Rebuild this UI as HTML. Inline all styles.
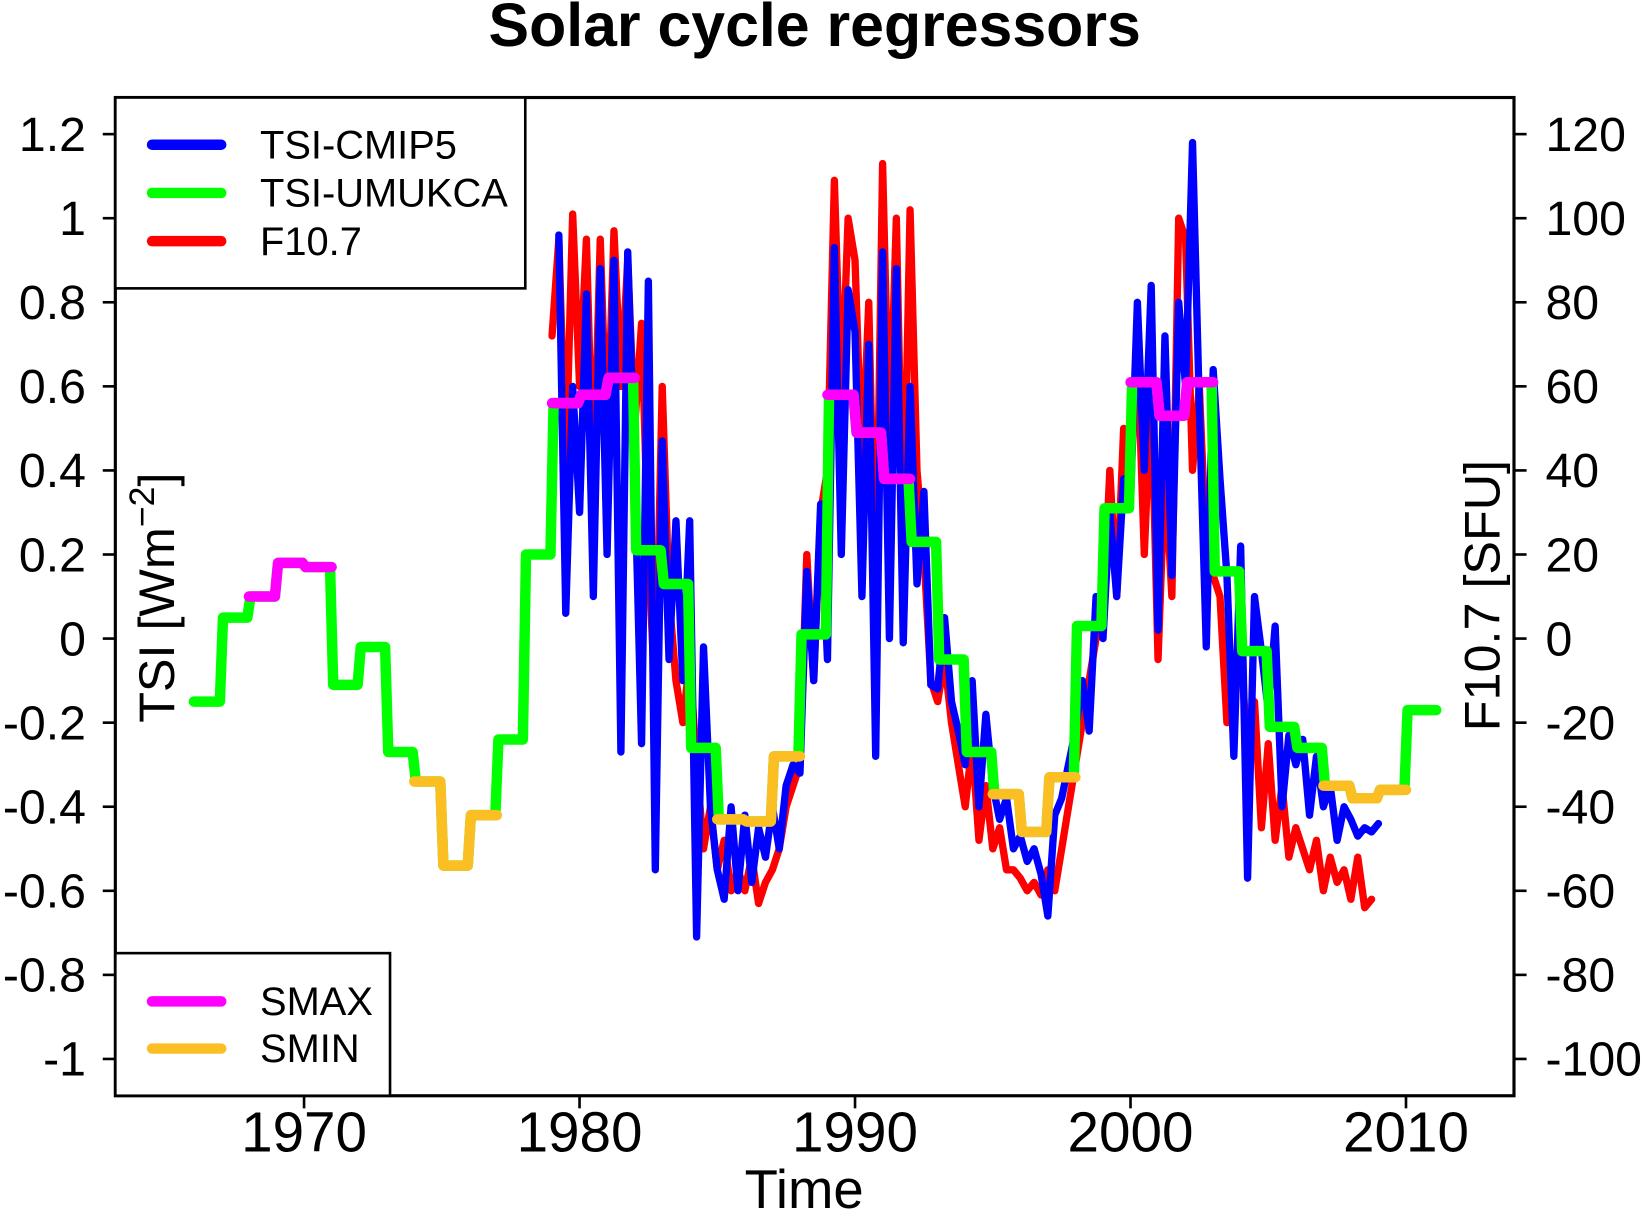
<!DOCTYPE html>
<html><head><meta charset="utf-8"><style>
html,body{margin:0;padding:0;background:#fff;}
svg{display:block;font-family:"Liberation Sans",Arial,sans-serif;}
</style></head><body>
<svg id="chart" width="1644" height="1209" viewBox="0 0 1568 1153" preserveAspectRatio="none" xmlns="http://www.w3.org/2000/svg">
<rect x="0" y="0" width="1568" height="1153" fill="#fff"/>
<text x="777" y="44" text-anchor="middle" font-size="58" font-weight="bold">Solar cycle regressors</text>
<g id="series"></g>
<rect x="110" y="93" width="1334" height="952" fill="none" stroke="#000" stroke-width="3"/>
<g id="axes"></g>
<text x="767" y="1152" text-anchor="middle" font-size="52">Time</text>
<text transform="translate(166,570) rotate(-90)" text-anchor="middle" font-size="48">TSI [Wm<tspan dy="-19" font-size="34">−2</tspan><tspan dy="19">]</tspan></text>
<text transform="translate(1430,568) rotate(-90)" text-anchor="middle" font-size="48">F10.7 [SFU]</text>
<g>
<rect x="110" y="93" width="391" height="182" fill="#fff" stroke="#000" stroke-width="2.5"/>
<line x1="145" y1="138" x2="211" y2="138" stroke="#0000ff" stroke-width="10" stroke-linecap="round"/>
<text x="248" y="151" font-size="38">TSI-CMIP5</text>
<line x1="145" y1="184" x2="211" y2="184" stroke="#00ff00" stroke-width="10" stroke-linecap="round"/>
<text x="248" y="197" font-size="38">TSI-UMUKCA</text>
<line x1="145" y1="230" x2="211" y2="230" stroke="#ff0000" stroke-width="10" stroke-linecap="round"/>
<text x="248" y="243" font-size="38">F10.7</text>
</g>
<g>
<rect x="110" y="909" width="262" height="136" fill="#fff" stroke="#000" stroke-width="2.5"/>
<line x1="145" y1="955" x2="211" y2="955" stroke="#ff00ff" stroke-width="10" stroke-linecap="round"/>
<text x="248" y="968" font-size="38">SMAX</text>
<line x1="145" y1="1000" x2="211" y2="1000" stroke="#fbbf24" stroke-width="10" stroke-linecap="round"/>
<text x="248" y="1013" font-size="38">SMIN</text>
</g>
<script>
const leftTicks = [1.2,1,0.8,0.6,0.4,0.2,0,-0.2,-0.4,-0.6,-0.8,-1];
const leftTickLabels = ["1.2","1","0.8","0.6","0.4","0.2","0","-0.2","-0.4","-0.6","-0.8","-1"];
const rightTicks = [120,100,80,60,40,20,0,-20,-40,-60,-80,-100];
const xTicks = [1970,1980,1990,2000,2010];
const stepYears = [1966,1967,1968,1969,1970,1971,1972,1973,1974,1975,1976,1977,1978,1979,1980,1981,1982,1983,1984,1985,1986,1987,1988,1989,1990,1991,1992,1993,1994,1995,1996,1997,1998,1999,2000,2001,2002,2003,2004,2005,2006,2007,2008,2009,2010];
const stepValues = [-0.15,0.05,0.10,0.18,0.17,-0.11,-0.02,-0.27,-0.34,-0.54,-0.42,-0.24,0.20,0.56,0.58,0.62,0.21,0.13,-0.26,-0.43,-0.435,-0.28,0.01,0.58,0.49,0.38,0.23,-0.05,-0.27,-0.37,-0.46,-0.33,0.03,0.31,0.61,0.53,0.61,0.16,-0.03,-0.21,-0.26,-0.35,-0.38,-0.36,-0.17];
const stepPhase = ["n","n","max","max","max","n","n","n","min","min","min","n","n","max","max","max","n","n","n","min","min","min","n","max","max","max","n","n","n","min","min","min","n","n","max","max","max","n","n","n","n","min","min","min","n"];
const stepEnd = 2011.1;
const tsiStart = 1979.25;
const tsiValues = [0.96,0.06,0.60,
0.30,0.82,0.10,0.88, 0.20,0.90,-0.27,0.92, 0.40,-0.25,0.85,-0.55, 0.47,-0.05,0.28,-0.10,
0.28,-0.71,-0.02,-0.40, -0.55,-0.62,-0.40,-0.60, -0.42,-0.58,-0.45,-0.52, -0.40,-0.50,-0.35,-0.30,
-0.32,0.16,-0.10,0.32, -0.05,0.93,0.20,0.83, 0.73,0.10,0.70,-0.28, 0.92,0.00,0.88,-0.01,
0.60,0.13,0.35,-0.11, -0.12,0.05,-0.15,-0.22, -0.30,-0.10,-0.40,-0.18, -0.35,-0.43,-0.38,-0.50,
-0.47,-0.53,-0.50,-0.56, -0.66,-0.42,-0.38,-0.30, -0.22,-0.10,-0.22,0.10, 0.00,0.30,0.10,0.38,
0.33,0.80,0.40,0.84, 0.02,0.72,0.15,0.80, 0.60,1.18,0.55,-0.02, 0.64,0.38,0.15,-0.28,
0.22,-0.57,0.10,-0.03, -0.17,0.03,-0.40,-0.23, -0.30,-0.24,-0.42,-0.28, -0.40,-0.35,-0.48,-0.40,
-0.43,-0.47,-0.45,-0.46, -0.44];
const f107Start = 1979.0;
const f107Values = [72,95,40,101, 60,95,35,95, 45,97,60,90, 50,75,20,-15, 60,10,-10,-20,
-5,-30,-50,-40, -55,-48,-60,-55, -60,-52,-63,-58, -55,-50,-40,-35, -30,20,-10,30,
40,109,55,100, 90,40,80,5, 113,45,100,20, 102,40,20,-10, -15,-5,-20,-30,
-40,-25,-48,-35, -50,-45,-55,-55, -57,-60,-58,-61, -55,-60,-50,-40, -30,-20,-10,0,
5,40,10,50, 40,70,20,60, -5,40,10,100, 95,40,60,20, 15,10,-20,-15,
0,-30,-15,-45, -25,-48,-35,-52, -45,-50,-55,-48, -60,-52,-58,-55, -62,-52,-64,-62];

const NS = "http://www.w3.org/2000/svg";
function xs(t){ return 290 + (t - 1970) * 26.275; }
function ys(v){ return 609 - v * 400.9; }
function yr(f){ return ys(f / 100); }
const series = document.getElementById('series');
const axes = document.getElementById('axes');
function mk(tag, attrs, parent){
  const e = document.createElementNS(NS, tag);
  for (const k in attrs) e.setAttribute(k, attrs[k]);
  parent.appendChild(e); return e;
}
function poly(pts, color, w, parent){
  return mk('polyline', {points: pts.map(p => p[0].toFixed(1)+','+p[1].toFixed(1)).join(' '), fill:'none', stroke:color, 'stroke-width':w, 'stroke-linejoin':'round', 'stroke-linecap':'round'}, parent);
}
const redPts = f107Values.map((v,i) => [xs(f107Start + i*0.25), yr(v)]);
const red = poly(redPts, '#ff0000', 7, series);


const bluePts = tsiValues.map((v,i) => [xs(tsiStart + i*0.25), ys(v)]);
const blue = poly(bluePts, '#0000ff', 7, series);


function stepPts(i0, i1){
  const pts = [];
  for (let i = i0; i <= i1; i++){
    const end = i + 1 < stepYears.length ? stepYears[i+1] : stepEnd;
    pts.push([xs(stepYears[i]) + (i === i0 ? 0 : 1.5), ys(stepValues[i])]);
    pts.push([xs(end) - (i === i1 ? 0 : 1.5), ys(stepValues[i])]);
  }
  return pts;
}
const green = poly(stepPts(0, stepYears.length - 1), '#00ff00', 10, series);


let i = 0;
while (i < stepPhase.length){
  if (stepPhase[i] === 'n'){ i++; continue; }
  let j = i;
  while (j + 1 < stepPhase.length && stepPhase[j+1] === stepPhase[i]) j++;
  const seg = poly(stepPts(i, j), stepPhase[i] === 'max' ? '#ff00ff' : '#fbbf24', 10, series);
  
  
  i = j + 1;
}
leftTicks.forEach((v, k) => {
  const y = ys(v);
  const t = mk('line', {x1:98, y1:y, x2:110, y2:y, stroke:'#000', 'stroke-width':2.5}, axes);
  
  
  const l = mk('text', {x:82, y:y+16, 'text-anchor':'end', 'font-size':46}, axes);
  l.textContent = leftTickLabels[k];
  
  
});
rightTicks.forEach(v => {
  const y = yr(v);
  const t = mk('line', {x1:1444, y1:y, x2:1456, y2:y, stroke:'#000', 'stroke-width':2.5}, axes);
  
  
  const l = mk('text', {x:1474, y:y+16, 'font-size':46}, axes);
  l.textContent = String(v);
  
  
});
xTicks.forEach(v => {
  const x = xs(v);
  const t = mk('line', {x1:x, y1:1045, x2:x, y2:1057, stroke:'#000', 'stroke-width':2.5}, axes);
  
  
  const l = mk('text', {x:x, y:1098, 'text-anchor':'middle', 'font-size':54}, axes);
  l.textContent = String(v);
  
  
});
</script>
</svg>
</body></html>
